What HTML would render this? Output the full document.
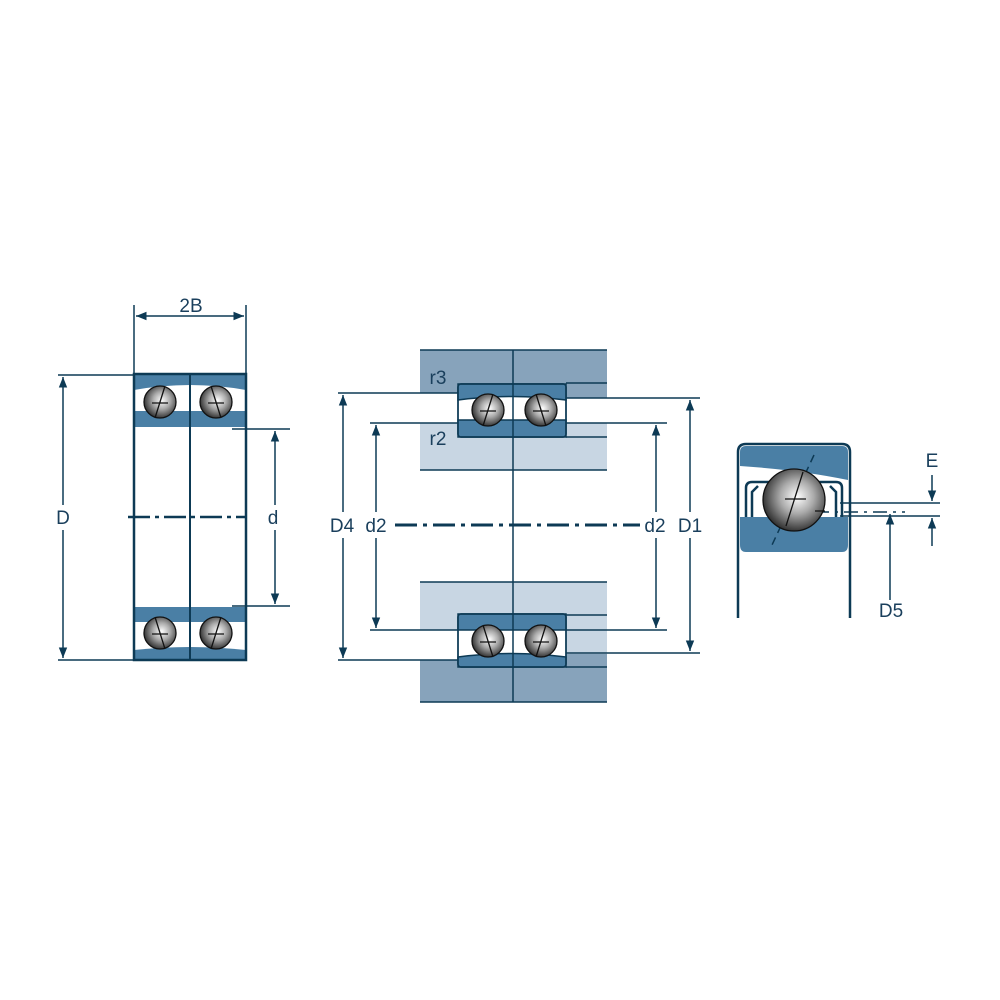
<!DOCTYPE html>
<html><head><style>body{margin:0;background:#fff}svg{display:block}text{font-family:"Liberation Sans",sans-serif;font-size:19px;fill:#1a3f5c}</style></head><body>
<svg width="1000" height="1000" viewBox="0 0 1000 1000" xmlns="http://www.w3.org/2000/svg">
<defs>
<radialGradient id="b" cx="0.55" cy="0.45" r="0.6"><stop offset="0" stop-color="#fff"/><stop offset="0.45" stop-color="#aaa"/><stop offset="1" stop-color="#222"/></radialGradient>
<marker id="a" viewBox="0 0 10 10" refX="10" refY="5" markerWidth="7" markerHeight="9" orient="auto-start-reverse"><path d="M0,1 L10,5 L0,9z" fill="#0d3a55"/></marker>
</defs>
<g stroke="#0d3a55" stroke-width="1.5" fill="none">
<!-- LEFT -->
<path d="M134,377 Q134,374 140,374 H240 Q246,374 246,377 V390 Q190,380 134,390Z" fill="#4a7fa5" stroke="none"/>
<rect x="134" y="411" width="112" height="16" fill="#4a7fa5" stroke="none"/>
<rect x="134" y="607" width="112" height="15" fill="#4a7fa5" stroke="none"/>
<path d="M134,650 Q190,644 246,650 V660 H134Z" fill="#4a7fa5" stroke="none"/>
<rect x="134" y="374" width="112" height="286" stroke-width="2.5"/>
<line x1="190" y1="374" x2="190" y2="660" stroke-width="2"/>
<line x1="134" y1="305" x2="134" y2="374"/><line x1="246" y1="305" x2="246" y2="374"/>
<line x1="136" y1="316" x2="244" y2="316" marker-start="url(#a)" marker-end="url(#a)"/>
<line x1="58" y1="375" x2="134" y2="375"/><line x1="58" y1="660" x2="134" y2="660"/>
<line x1="63" y1="377" x2="63" y2="505" marker-start="url(#a)"/><line x1="63" y1="530" x2="63" y2="658" marker-end="url(#a)"/>
<line x1="232" y1="429" x2="290" y2="429"/><line x1="232" y1="606" x2="290" y2="606"/>
<line x1="275" y1="431" x2="275" y2="505" marker-start="url(#a)"/><line x1="275" y1="530" x2="275" y2="604" marker-end="url(#a)"/>
<line x1="128" y1="517" x2="245" y2="517" stroke-width="2.5" stroke-dasharray="22,5,4,5"/>
<!-- MIDDLE housing -->
<rect x="420" y="350" width="187" height="43" fill="#87a3bb" stroke="none"/>
<rect x="566" y="393" width="41" height="5" fill="#87a3bb" stroke="none"/>
<rect x="420" y="423" width="187" height="47" fill="#c8d6e3" stroke="none"/>
<rect x="420" y="582" width="187" height="48" fill="#c8d6e3" stroke="none"/>
<rect x="566" y="630" width="41" height="24" fill="#c8d6e3" stroke="none"/>
<rect x="420" y="660" width="187" height="42" fill="#87a3bb" stroke="none"/>
<rect x="566" y="654" width="41" height="6" fill="#87a3bb" stroke="none"/>
<line x1="420" y1="350" x2="607" y2="350"/><line x1="420" y1="470" x2="607" y2="470"/>
<line x1="420" y1="582" x2="607" y2="582"/><line x1="420" y1="702" x2="607" y2="702"/>
<line x1="566" y1="383" x2="607" y2="383"/><line x1="566" y1="437" x2="607" y2="437"/>
<line x1="566" y1="615" x2="607" y2="615"/><line x1="566" y1="667" x2="607" y2="667"/>
<!-- middle bearings -->
<g>
<rect x="458" y="384" width="108" height="53" rx="3" fill="#fff"/>
<path d="M458,384 H566 V400 Q512,393 458,400Z" fill="#4a7fa5"/>
<rect x="458" y="420" width="108" height="17" fill="#4a7fa5"/>
<rect x="458" y="384" width="108" height="53" rx="3"/>
</g>
<g>
<rect x="458" y="614" width="108" height="53" rx="3" fill="#fff"/>
<rect x="458" y="614" width="108" height="16" fill="#4a7fa5"/>
<path d="M458,667 H566 V657 Q512,650 458,657Z" fill="#4a7fa5"/>
<rect x="458" y="614" width="108" height="53" rx="3"/>
</g>
<line x1="513" y1="350" x2="513" y2="702"/>
<line x1="338" y1="393" x2="458" y2="393"/><line x1="338" y1="660" x2="458" y2="660"/>
<line x1="370" y1="423" x2="458" y2="423"/><line x1="370" y1="630" x2="458" y2="630"/>
<line x1="566" y1="398" x2="700" y2="398"/><line x1="566" y1="653" x2="700" y2="653"/>
<line x1="566" y1="423" x2="667" y2="423"/><line x1="566" y1="630" x2="667" y2="630"/>
<line x1="343" y1="395" x2="343" y2="512" marker-start="url(#a)"/><line x1="343" y1="538" x2="343" y2="658" marker-end="url(#a)"/>
<line x1="376" y1="425" x2="376" y2="512" marker-start="url(#a)"/><line x1="376" y1="538" x2="376" y2="628" marker-end="url(#a)"/>
<line x1="656" y1="425" x2="656" y2="512" marker-start="url(#a)"/><line x1="656" y1="538" x2="656" y2="628" marker-end="url(#a)"/>
<line x1="690" y1="400" x2="690" y2="512" marker-start="url(#a)"/><line x1="690" y1="538" x2="690" y2="651" marker-end="url(#a)"/>
<line x1="395" y1="525" x2="640" y2="525" stroke-width="3" stroke-dasharray="22,6,4,6"/>
<!-- RIGHT -->
<path d="M738,618 V452 Q738,444 746,444 H842 Q850,444 850,452 V618" stroke-width="2.5"/>
<path d="M740,452 Q740,446 746,446 H842 Q848,446 848,452 V480 Q800,470 740,466Z" fill="#4a7fa5" stroke="none"/>
<path d="M740,517 H848 V545 Q848,552 842,552 H746 Q740,552 740,545Z" fill="#4a7fa5" stroke="none"/>
<path d="M746,517 V488 Q746,482 752,482 H770 M842,517 V488 Q842,482 836,482 H818 M752,517 V492 L758,486 M836,517 V492 L830,486" stroke-width="2.5"/>
<line x1="840" y1="503" x2="940" y2="503"/><line x1="840" y1="516" x2="940" y2="516"/>
<line x1="815" y1="512" x2="905" y2="512" stroke-dasharray="14,6,3,6"/>
<line x1="932" y1="475" x2="932" y2="501" marker-end="url(#a)"/><line x1="932" y1="546" x2="932" y2="518" marker-end="url(#a)"/>
<line x1="890" y1="600" x2="890" y2="514" marker-end="url(#a)"/>
<line x1="814" y1="455" x2="772" y2="545" stroke-dasharray="8,5"/>
</g>
<!-- balls -->
<g stroke="#111" stroke-width="1.3">
<circle cx="160" cy="402" r="16" fill="url(#b)"/><path d="M165,386 L155,418 M152,403 H168"/>
<circle cx="216" cy="402" r="16" fill="url(#b)"/><path d="M211,386 L221,418 M208,403 H224"/>
<circle cx="160" cy="633" r="16" fill="url(#b)"/><path d="M155,617 L165,649 M152,634 H168"/>
<circle cx="216" cy="633" r="16" fill="url(#b)"/><path d="M221,617 L211,649 M208,634 H224"/>
<circle cx="488" cy="410" r="16" fill="url(#b)"/><path d="M493,394 L483,426 M480,411 H496"/>
<circle cx="541" cy="410" r="16" fill="url(#b)"/><path d="M536,394 L546,426 M533,411 H549"/>
<circle cx="488" cy="641" r="16" fill="url(#b)"/><path d="M483,625 L493,657 M480,642 H496"/>
<circle cx="541" cy="641" r="16" fill="url(#b)"/><path d="M546,625 L536,657 M533,642 H549"/>
<circle cx="794" cy="500" r="31" fill="url(#b)"/><path d="M803,472 L786,526 M785,499 H806 M815,511 H825"/>
</g>
<text x="191" y="312" text-anchor="middle">2B</text>
<text x="63" y="524" text-anchor="middle">D</text>
<text x="273" y="524" text-anchor="middle">d</text>
<text x="438" y="384" text-anchor="middle">r3</text>
<text x="438" y="445" text-anchor="middle">r2</text>
<text x="342" y="532" text-anchor="middle">D4</text>
<text x="376" y="532" text-anchor="middle">d2</text>
<text x="655" y="532" text-anchor="middle">d2</text>
<text x="690" y="532" text-anchor="middle">D1</text>
<text x="932" y="467" text-anchor="middle">E</text>
<text x="891" y="617" text-anchor="middle">D5</text>
</svg>
</body></html>
